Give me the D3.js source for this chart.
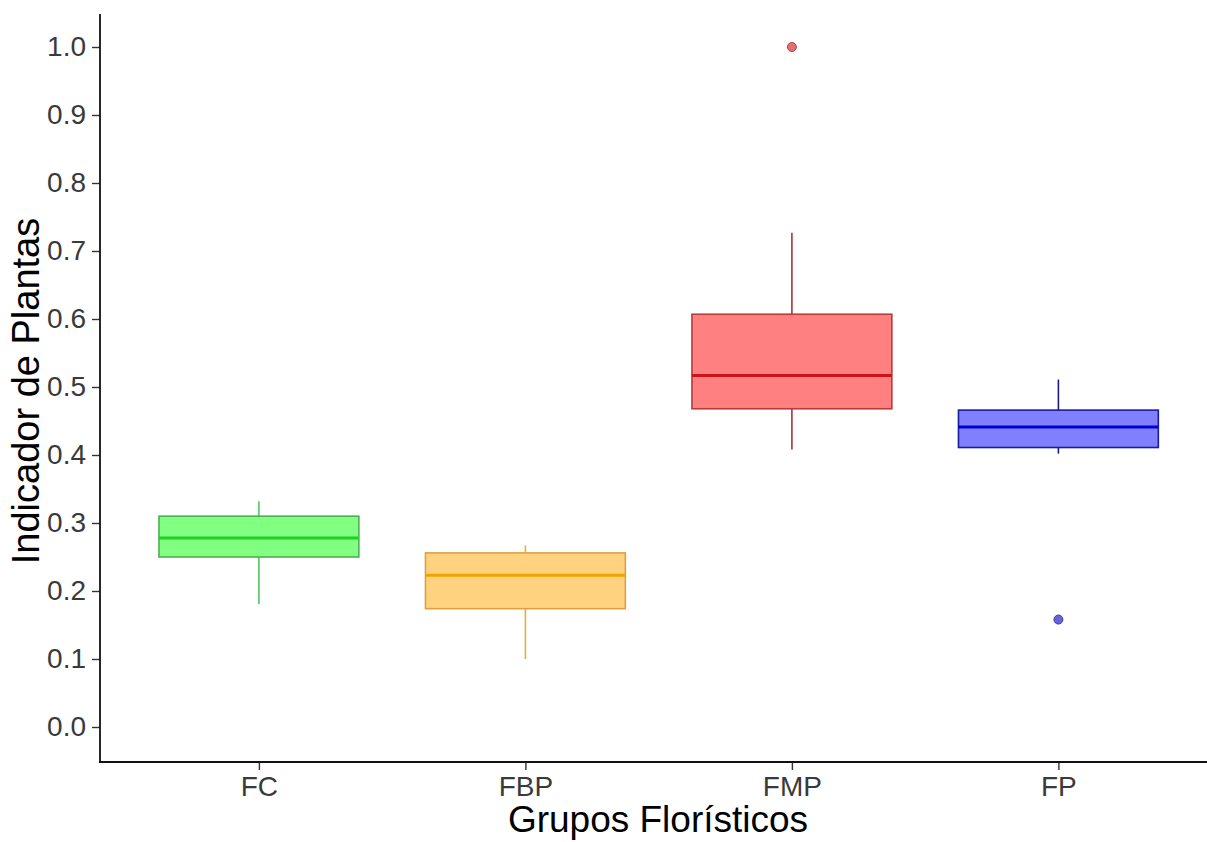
<!DOCTYPE html>
<html>
<head>
<meta charset="utf-8">
<script src="https://cdn.jsdelivr.net/npm/d3@7"></script>
<style>
  html, body { margin: 0; padding: 0; background: #ffffff; }
  svg { display: block; }
  text { font-family: "Liberation Sans", Arial, sans-serif; }
</style>
</head>
<body>
<svg id="chart" width="1207" height="842"></svg>
<script>
// ---- data ----
const categories  = ["FC", "FBP", "FMP", "FP"];
const whiskerLow  = [0.181, 0.100, 0.408, 0.402];
const q1          = [0.250, 0.174, 0.468, 0.411];
const median      = [0.278, 0.223, 0.517, 0.441];
const q3          = [0.310, 0.256, 0.607, 0.466];
const whiskerHigh = [0.332, 0.267, 0.727, 0.511];
const outliers    = [[], [], [1.0], [0.158]];
const yTicks      = [0.0, 0.1, 0.2, 0.3, 0.4, 0.5, 0.6, 0.7, 0.8, 0.9, 1.0];
const xTitle = "Grupos Florísticos";
const yTitle = "Indicador de Plantas";

// ---- styles ----
const fills    = ["#80ff80", "#ffd280", "#ff8080", "#8080ff"];
const borders  = ["#4cb050", "#e0a040", "#b83a3a", "#1c1c9a"];
const medians  = ["#1fd01f", "#eea400", "#cc1515", "#0000d0"];
const whiskers = ["#50c860", "#e0b040", "#a83636", "#1c1c80"];
const ptFill   = ["#80ff80", "#ffd280", "#e07070", "#6464d8"];
const ptStroke = ["#4cb050", "#e0a040", "#b04444", "#3a3aa8"];

const boxes = categories.map((c, i) => ({
  cat: c, i, lo: whiskerLow[i], q1: q1[i], med: median[i], q3: q3[i], hi: whiskerHigh[i], out: outliers[i]
}));

const svg = d3.select("#chart");

const x = d3.scalePoint().domain(categories).range([99, 1218.3]).padding(0.6);
const step = x.step();
const boxW = step * 0.75;

const y = d3.scaleLinear().domain([0, 1]).range([727, 47]);
const yTop = y.invert(14), yBot = y.invert(762);

// boxes
const g = svg.append("g");
boxes.forEach(b => {
  const cx = x(b.cat);
  g.append("line").attr("x1", cx).attr("x2", cx).attr("y1", y(b.q3)).attr("y2", y(b.hi))
    .attr("stroke", whiskers[b.i]).attr("stroke-width", 1.6);
  g.append("line").attr("x1", cx).attr("x2", cx).attr("y1", y(b.q1)).attr("y2", y(b.lo))
    .attr("stroke", whiskers[b.i]).attr("stroke-width", 1.6);
  g.append("rect").attr("x", cx - boxW / 2).attr("y", y(b.q3))
    .attr("width", boxW).attr("height", y(b.q1) - y(b.q3))
    .attr("fill", fills[b.i]).attr("stroke", borders[b.i]).attr("stroke-width", 1.6);
  g.append("line").attr("x1", cx - boxW / 2).attr("x2", cx + boxW / 2)
    .attr("y1", y(b.med)).attr("y2", y(b.med))
    .attr("stroke", medians[b.i]).attr("stroke-width", 3);
  b.out.forEach(v => {
    g.append("circle").attr("cx", cx).attr("cy", y(v)).attr("r", 4.5)
      .attr("fill", ptFill[b.i]).attr("stroke", ptStroke[b.i]).attr("stroke-width", 1);
  });
});

// y axis
const yAxis = svg.append("g").attr("transform", "translate(100,0)")
  .call(d3.axisLeft(y).tickValues(yTicks).tickFormat(d3.format(".1f")).tickSize(8).tickPadding(6));
yAxis.select(".domain").remove();
yAxis.selectAll(".tick line").attr("stroke", "#333").attr("stroke-width", 1.4);
yAxis.selectAll(".tick text").attr("fill", "#3a3a3a").style("font-size", "28px");
svg.append("line").attr("x1", 100).attr("x2", 100).attr("y1", y(yTop)).attr("y2", y(yBot))
  .attr("stroke", "#111").attr("stroke-width", 1.8);

// x axis
const xAxis = svg.append("g").attr("transform", "translate(0,762)")
  .call(d3.axisBottom(x).tickSize(8).tickPadding(6));
xAxis.select(".domain").remove();
xAxis.selectAll(".tick line").attr("stroke", "#333").attr("stroke-width", 1.4);
xAxis.selectAll(".tick text").attr("fill", "#3a3a3a").style("font-size", "28px");
svg.append("line").attr("x1", 99).attr("x2", 1207).attr("y1", 762).attr("y2", 762)
  .attr("stroke", "#111").attr("stroke-width", 1.8);

// axis titles
svg.append("text").attr("x", 658).attr("y", 832).attr("text-anchor", "middle")
  .attr("fill", "#000").style("font-size", "37px").text(xTitle);
svg.append("text").attr("transform", "translate(39,391) rotate(-90)").attr("text-anchor", "middle")
  .attr("fill", "#000").style("font-size", "38px").text(yTitle);
</script>
</body>
</html>
